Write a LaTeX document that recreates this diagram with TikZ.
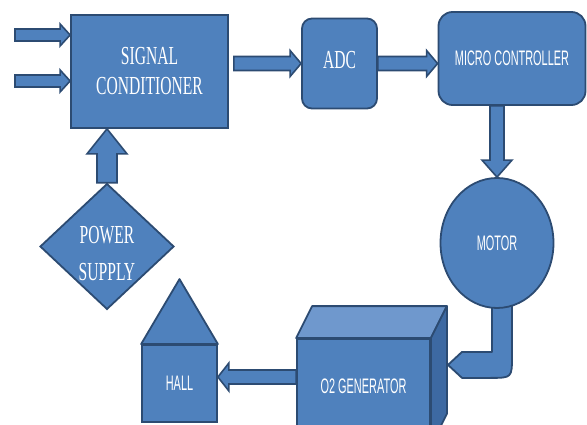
\documentclass[tikz,border=0pt]{standalone}
\usepackage{fontspec}
\setmainfont{Liberation Serif}
\newfontfamily\serifnarrow[FakeStretch=0.6]{Liberation Serif}
\newfontfamily\sansnarrow[FakeStretch=0.52]{Liberation Sans}
\usetikzlibrary{calc,positioning,shapes.geometric,backgrounds}
\definecolor{BoxBlue}{HTML}{4F81BD}
\definecolor{EdgeBlue}{HTML}{2C4B72}
\definecolor{TopBlue}{HTML}{6F98CD}
\definecolor{SideBlue}{HTML}{3D69A2}

\tikzset{
  ba shaft/.store in=\baShaft,
  ba head/.store in=\baHead,
  ba tip/.store in=\baTip,
  ba shaft=7, ba head=13, ba tip=11,
  blockarrow/.style={
    draw=EdgeBlue,
    fill=BoxBlue,
    line width=1.6pt,
    to path={
      ($(\tikztostart)!\baShaft pt!90:(\tikztotarget)$)
      -- ($(\tikztotarget)!{veclen(\baTip,\baShaft)*1pt}!{-atan2(\baShaft,\baTip)}:(\tikztostart)$)
      -- ($(\tikztotarget)!{veclen(\baTip,\baHead)*1pt}!{-atan2(\baHead,\baTip)}:(\tikztostart)$)
      -- (\tikztotarget)
      -- ($(\tikztotarget)!{veclen(\baTip,\baHead)*1pt}!{atan2(\baHead,\baTip)}:(\tikztostart)$)
      -- ($(\tikztotarget)!{veclen(\baTip,\baShaft)*1pt}!{atan2(\baShaft,\baTip)}:(\tikztostart)$)
      -- ($(\tikztostart)!\baShaft pt!-90:(\tikztotarget)$)
      -- cycle}
  },
  block/.style={
    draw=EdgeBlue,
    fill=BoxBlue,
    line width=1.8pt,
    text=white,
    inner sep=0pt,
    align=center
  },
  face/.style={draw=EdgeBlue, line width=1.8pt, line join=round},
  seriflabel/.style={font=\serifnarrow\fontsize{26}{30}\selectfont},
  sanslabel/.style={font=\sansnarrow\fontsize{21}{25}\selectfont}
}

\begin{document}
\begin{tikzpicture}[x=1pt, y=-1pt]
  \useasboundingbox (0,0) rectangle (587,425);
  \clip (0,0) rectangle (587,425);

  \node[block, seriflabel, minimum width=157pt, minimum height=113pt] (sc) at (149.5,71.5) {SIGNAL\\CONDITIONER};
  \node[block, seriflabel, rounded corners=10pt, minimum width=75pt, minimum height=90pt, text depth=7pt] (adc) at (339.5,63.5) {ADC};
  \node[block, sanslabel, rounded corners=14pt, minimum width=147pt, minimum height=93pt] (mc) at (512,58.5) {MICRO CONTROLLER};
  \node[block, sanslabel, ellipse, minimum width=113pt, minimum height=130pt] (motor) at (497,243) {MOTOR};
  \node[block, seriflabel, diamond, minimum width=134pt, minimum height=123pt] (power) at (107,246.5) {POWER\rule{0pt}{32pt}\\[7pt]SUPPLY};
  \node[block, sanslabel, minimum width=133pt, minimum height=106pt, text height=16pt, text depth=14pt] (o2) at (363.5,392) {O2 GENERATOR};
  \node[block, sanslabel, minimum width=75pt, minimum height=77pt] (hall) at (179.5,383.5) {HALL};

  \draw[face, fill=TopBlue] (o2.north west) -- ++(16,-32) -- ($(o2.north east)+(16,-32)$) -- (o2.north east) -- cycle;
  \draw[face, fill=SideBlue] (o2.north east) -- ++(16,-32) -- ($(o2.south east)+(16,-32)$) -- (o2.south east) -- cycle;
  \draw[face, fill=BoxBlue] (hall.north west) -- ($(hall.north)+(0,-65)$) -- (hall.north east) -- cycle;

  \begin{scope}[on background layer, shift={(motor.south)}]
    \draw[face, fill=BoxBlue] (-5,-8) -- (-5,43) -- (-35,43) -- (-49,56) -- (-35,69) -- (-7,69)
      .. controls (15,69) and (15,69) .. (15,47) -- (15,-8) -- cycle;
  \end{scope}

  \coordinate (in1) at (15,35);
  \coordinate (in2) at (15,81);
  \coordinate (scout) at ($(sc.east |- adc.west)+(5,0)$);
  \coordinate (o2out) at ($(o2.west)+(0,-15)$);
  \coordinate (hallin) at ($(hall.east)+(0,-6.5)$);

  \draw[blockarrow, ba shaft=6, ba head=11, ba tip=10] (in1) to (in1 -| sc.west);
  \draw[blockarrow, ba shaft=6, ba head=11, ba tip=10] (in2) to (in2 -| sc.west);
  \draw[blockarrow] (scout) to (adc.west);
  \draw[blockarrow] (adc.east) to (mc.west |- adc.east);
  \draw[blockarrow, ba shaft=7, ba head=15, ba tip=17] (mc.south -| motor.north) to (motor.north);
  \draw[blockarrow, ba shaft=10, ba head=20, ba tip=25] (power.north) to (power.north |- sc.south);
  \draw[blockarrow, ba shaft=7, ba head=14, ba tip=11] (o2out) to (hallin);
\end{tikzpicture}
\end{document}
